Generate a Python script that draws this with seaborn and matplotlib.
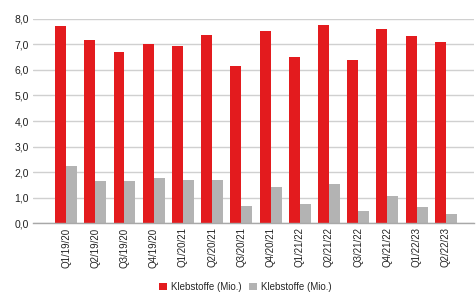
import matplotlib
matplotlib.use("Agg")
import matplotlib.pyplot as plt
import seaborn as sns
import pandas as pd
from matplotlib.patches import Patch

categories = ["Q1/19/20", "Q2/19/20", "Q3/19/20", "Q4/19/20", "Q1/20/21", "Q2/20/21",
              "Q3/20/21", "Q4/20/21", "Q1/21/22", "Q2/21/22", "Q3/21/22", "Q4/21/22",
              "Q1/22/23", "Q2/22/23"]
series_names = ["Klebstoffe (Mio.)", "Klebstoffe (Mio.)"]
red_values = [7.71, 7.18, 6.68, 7.00, 6.92, 7.37, 6.14, 7.53, 6.50, 7.76, 6.37, 7.61, 7.31, 7.11]
gray_values = [2.25, 1.64, 1.66, 1.76, 1.68, 1.70, 0.66, 1.43, 0.74, 1.55, 0.49, 1.08, 0.65, 0.35]
yticks = [0, 1, 2, 3, 4, 5, 6, 7, 8]
ytick_labels = ["0,0", "1,0", "2,0", "3,0", "4,0", "5,0", "6,0", "7,0", "8,0"]

colors = ["#E31B1E", "#B3B3B3"]

df = pd.concat([
    pd.DataFrame({"cat": categories, "val": red_values, "s": "s0"}),
    pd.DataFrame({"cat": categories, "val": gray_values, "s": "s1"}),
])

sns.set_style("white")
plt.rcParams["font.family"] = ["Liberation Sans", "DejaVu Sans"]

fig = plt.figure(figsize=(4.76, 2.93), dpi=100)
ax = fig.add_axes([0.070, 0.238, 0.925, 0.698])
sns.barplot(data=df, x="cat", y="val", hue="s", palette=colors, width=0.75, gap=0,
            saturation=1, ax=ax, legend=False, linewidth=0, edgecolor="none")

ax.set_ylim(0, 8)
ax.set_xlim(-1.12, 13.95)
ax.set_yticks(yticks)
ax.set_yticklabels(ytick_labels, fontsize=7.5, color="#222222")
ax.set_xticks(range(len(categories)))
ax.set_xticklabels(categories, rotation=90, fontsize=7, color="#222222")
ax.tick_params(axis="both", length=0, pad=3)
ax.set_xlabel("")
ax.set_ylabel("")
ax.yaxis.grid(True, color="#D0D0D0", linewidth=1.0)
ax.set_axisbelow(True)
for s in ["top", "right", "left"]:
    ax.spines[s].set_visible(False)
ax.spines["bottom"].set_color("#A8A8A8")
ax.spines["bottom"].set_linewidth(1.0)

handles = [Patch(facecolor=c, edgecolor="none") for c in colors]
fig.legend(handles, series_names, loc="center", bbox_to_anchor=(0.515, 0.02),
           ncol=2, frameon=False, fontsize=7, handlelength=0.8, handleheight=0.8,
           handletextpad=0.4, columnspacing=0.8)

fig.savefig("out.png", dpi=100)
